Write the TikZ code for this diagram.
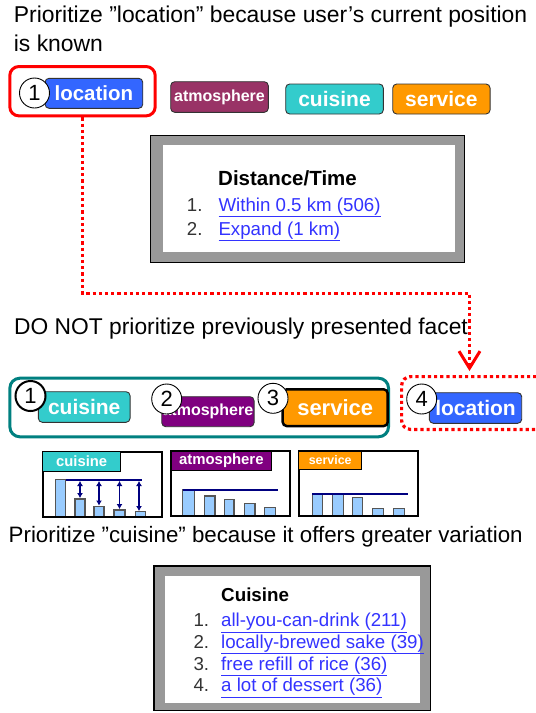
\documentclass[tikz,border=0pt]{standalone}
\usepackage{fontspec}
\setmainfont{Liberation Sans}
\usetikzlibrary{arrows.meta}
\definecolor{locblue}{HTML}{3366FF}
\definecolor{atmoA}{HTML}{993366}
\definecolor{cuis}{HTML}{33CCCC}
\definecolor{serv}{HTML}{FF9900}
\definecolor{atmoB}{HTML}{800080}
\definecolor{tealc}{HTML}{008080}
\definecolor{panelgray}{HTML}{999999}
\definecolor{barfill}{HTML}{99CCFF}
\definecolor{navyc}{HTML}{000080}
\definecolor{linkblue}{HTML}{3333FF}
\definecolor{bargray}{HTML}{555555}
\newcommand\fsz[1]{\fontsize{#1}{#1}\selectfont}
\newcommand\lnk[1]{\textcolor{linkblue}{\underline{#1}}}
\tikzset{
  facet/.style={draw=black!80, line width=0.9pt, rounded corners=4pt, text=white,
    inner sep=0pt, font=\bfseries},
  numc/.style={circle, draw=black, fill=white, minimum size=30pt, inner sep=0pt,
    line width=0.9pt, font=\fsz{22}},
  reddot/.style={draw=red, line width=3.2pt, dash pattern=on 3.2pt off 3pt},
  bar/.style={fill=barfill, draw=bargray, line width=1.2pt},
  refline/.style={draw=navyc, line width=1.1pt},
  frame/.style={draw=black, line width=2pt},
  band/.style={draw=black, line width=1pt},
  headtxt/.style={anchor=base west, inner sep=0pt, font=\fsz{22.9}},
  ptxt/.style={anchor=base west, inner sep=0pt, font=\fsz{18.7}},
  pnum/.style={anchor=base west, inner sep=0pt, font=\fsz{18.7}, text=black!80},
  darr/.style={draw=navyc, line width=1.5pt, {Latex[length=5pt,width=6pt]}-{Latex[length=5pt,width=6pt]}}
}
\begin{document}
\begin{tikzpicture}[x=1pt,y=-1pt]
\useasboundingbox (0,0) rectangle (536,713);
\fill[white] (0,0) rectangle (536,713);

% headings
\node[headtxt] (h1) at (13.7,22.2) {Prioritize ”location” because user’s current position};
\node[headtxt] (h2) at (13.7,51.3) {is known};

% top row
\node[draw=red, line width=3pt, rounded corners=9pt, minimum width=145.4pt, minimum height=49.3pt] (redbox) at (82.5,91.2) {};
\node[facet, fill=locblue, minimum width=97.7pt, minimum height=30pt, font=\bfseries\fsz{20.5}] (loc1) at (93.9,93.3) {location};
\node[facet, fill=atmoA, minimum width=97.6pt, minimum height=30.6pt, font=\bfseries\fsz{16}] (atm1) at (219.5,97) {atmosphere};
\node[facet, fill=cuis, minimum width=97.6pt, minimum height=30pt, font=\bfseries\fsz{21}] (cui1) at (334.5,99) {cuisine};
\node[facet, fill=serv, minimum width=97.3pt, minimum height=30pt, font=\bfseries\fsz{21}] (ser1) at (441.4,99) {service};
\node[numc] (n1a) at (34.5,93) {1};

% top panel
\node[fill=panelgray, draw=black, line width=1.2pt, minimum width=313.8pt, minimum height=126.8pt] (panA) at (307.5,199) {};
\node[fill=white, minimum width=291.7pt, minimum height=106.7pt] (panAin) at (309.2,198.4) {};
\node[anchor=base west, inner sep=0pt, font=\bfseries\fsz{20.5}] (pAt) at (218,185) {Distance/Time};
\node[pnum] (pAn1) at (186.7,211) {1.};
\node[ptxt] (pAl1) at (218.3,211) {\lnk{Within 0.5 km (506)}};
\node[pnum] (pAn2) at (186.7,235) {2.};
\node[ptxt] (pAl2) at (218.3,235) {\lnk{Expand (1 km)}};

% second heading
\node[headtxt, font=\fsz{22.8}] (h3) at (14,334) {DO NOT prioritize previously presented facet};

% second row
\node[draw=tealc, line width=3pt, rounded corners=10pt, minimum width=378.7pt, minimum height=58.6pt] (tealbox) at (199.2,407.5) {};
\node[reddot, rounded corners=9pt, minimum width=150pt, minimum height=52.8pt] (dotbox) at (476.6,403) {};
\node[facet, fill=cuis, minimum width=91.7pt, minimum height=30.6pt, font=\bfseries\fsz{21}] (cui2) at (84.2,407) {cuisine};
\node[facet, fill=atmoB, minimum width=92.3pt, minimum height=30pt, font=\bfseries\fsz{16}] (atm2) at (207.9,411.7) {atmosphere};
\node[facet, fill=serv, draw=black, line width=2.5pt, minimum width=105pt, minimum height=36.7pt, font=\bfseries\fsz{22}] (ser2) at (335.2,407.7) {service};
\node[facet, fill=locblue, minimum width=92.4pt, minimum height=30.6pt, font=\bfseries\fsz{21}] (loc2) at (475.5,408) {location};
\node[numc, line width=2pt] (n1b) at (30.5,396) {1};
\node[numc] (n2) at (166.7,399) {2};
\node[numc] (n3) at (273,398.3) {3};
\node[numc] (n4) at (421.7,399) {4};

% dotted connector
\coordinate (turn) at (469.5,293.3);
\draw[reddot, -{Straight Barb[length=17pt,width=21pt,line width=3pt]}, shorten >=4pt] (redbox.south) |- (turn) -- (turn |- dotbox.north);

% chart 1 (cuisine)
\foreach \a/\b/\t in {55.7/65.7/479.3, 75/85/499, 94/104/506.7, 114/125/510, 135.7/145.7/511.7}
  \draw[bar] (\a,\t) rectangle (\b,516.7);
\draw[refline] (65.7,480) -- (141.7,480);
\foreach \x/\t in {80/498, 99/505.5, 119.5/509, 139/511}
  \draw[darr] (\x,481) -- (\x,\t);
\draw[frame] (42.7,451.7) rectangle (162.3,516.7);
\node[band, fill=cuis, minimum width=78pt, minimum height=20pt, inner sep=0pt, text=white, font=\bfseries\fsz{14.8}] (t1) at (81.7,461.7) {cuisine};

% chart 2 (atmosphere)
\foreach \a/\b/\t in {182.7/194.3/490, 204.3/215/496, 224.3/234/499.7, 244.3/255/503.3, 264.3/275.7/507.7}
  \draw[bar] (\a,\t) rectangle (\b,516);
\draw[refline] (183,490) -- (278.3,490);
\draw[frame] (171,451) rectangle (289.7,516);
\node[band, fill=atmoB, minimum width=100.7pt, minimum height=19.7pt, inner sep=0pt, text=white, font=\bfseries\fsz{14.9}] (t2) at (221.35,460.85) {atmosphere};

% chart 3 (service)
\foreach \a/\b/\t in {312.3/322.7/493.3, 332.3/343.3/494.3, 352.7/362.3/497.3, 372.7/383.3/508.3, 393.3/404.3/508.3}
  \draw[bar] (\a,\t) rectangle (\b,515.7);
\draw[refline] (312,494) -- (408.3,494);
\draw[frame] (298.7,451) rectangle (418.3,515.7);
\node[band, fill=serv, minimum width=63pt, minimum height=18.3pt, inner sep=0pt, text=white, font=\bfseries\fsz{12.4}] (t3) at (330.2,460.15) {service};

% third heading
\node[headtxt, font=\fsz{22.3}] (h4) at (8.5,542.2) {Prioritize ”cuisine” because it offers greater variation};

% bottom panel
\node[fill=panelgray, draw=black, line width=1.2pt, minimum width=276.8pt, minimum height=144.8pt] (panB) at (292.4,638.4) {};
\node[fill=white, minimum width=255pt, minimum height=126.6pt] (panBin) at (292.5,639.7) {};
\node[anchor=base west, inner sep=0pt, font=\bfseries\fsz{18.8}] (pBt) at (221,601.7) {Cuisine};
\node[pnum] (pBn1) at (193.3,626.7) {1.};
\node[ptxt] (pBl1) at (221,626.7) {\lnk{all-you-can-drink (211)}};
\node[pnum] (pBn2) at (193.3,648.3) {2.};
\node[ptxt] (pBl2) at (221,648.3) {\lnk{locally-brewed sake (39)}};
\node[pnum] (pBn3) at (193.3,670) {3.};
\node[ptxt] (pBl3) at (221,670) {\lnk{free refill of rice (36)}};
\node[pnum] (pBn4) at (193.3,691.7) {4.};
\node[ptxt] (pBl4) at (221,691.7) {\lnk{a lot of dessert (36)}};
\end{tikzpicture}
\end{document}
